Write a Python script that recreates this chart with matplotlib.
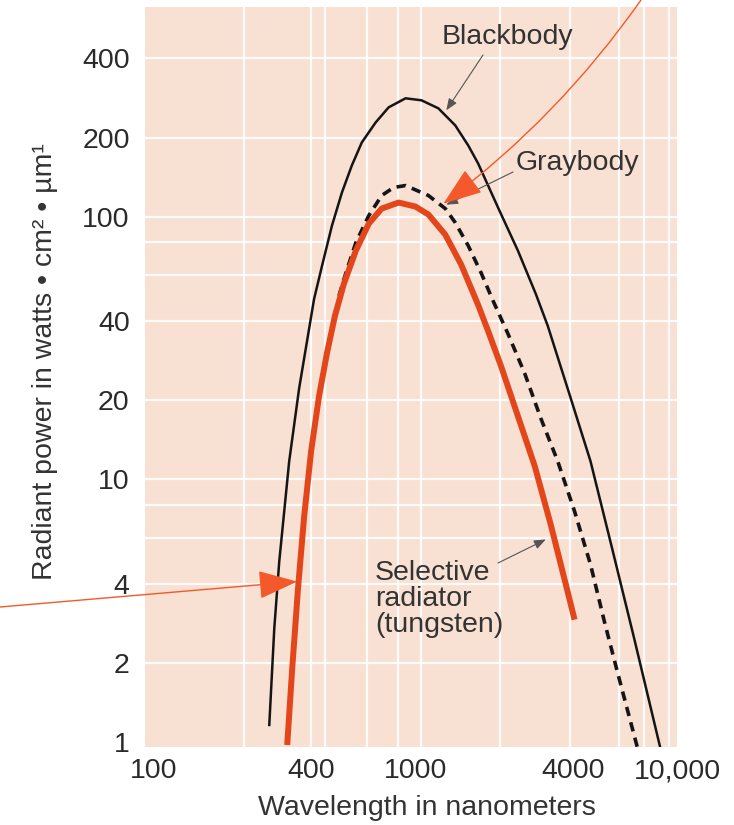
import matplotlib
matplotlib.use('Agg')
import matplotlib.pyplot as plt

plt.rcParams['font.family'] = ['Liberation Sans', 'DejaVu Sans']

# wavelength (nm) and radiant power
blackbody_nm = [276, 288.4, 301.3, 328.9, 359.1, 409.5, 439.2, 479.3, 523.2, 571, 623.4,
                704.7, 789.5, 916.2, 1054, 1223, 1419, 1591, 1736, 2069, 2464, 2884,
                3204, 3920, 4669, 5661, 6862, 8617]
blackbody_power = [1.161, 2.7, 4.864, 11.72, 22.25, 48.6, 65.0, 92.4, 123.5, 156.6, 191.6,
                   228.5, 260.6, 282.1, 277.2, 258.4, 222.5, 186.6, 159.3, 108.2, 74.2, 50.8,
                   38.4, 20.4, 11.72, 5.405, 2.473, 0.957]

graybody_nm = [509.6, 541.9, 591.4, 662.8, 742.6, 824.8, 916.2, 1121, 1300, 1419, 1591,
               1782, 1980, 2258, 2620, 3013, 3498, 4058, 4669, 5278, 5915, 7047]
graybody_power = [49.9, 61.1, 79.6, 100.9, 120.3, 129.1, 131.3, 120.3, 107.3, 94.9, 77.5,
                  61.1, 47.8, 35.8, 25.2, 17.09, 11.72, 7.55, 4.74, 2.871, 1.85, 0.957]

tungsten_nm = [323.2, 337.7, 355.9, 375.2, 398.9, 427.8, 458.8, 492.0, 532.4, 591.4, 662.8,
               742.6, 861.6, 1000, 1121, 1300, 1496, 1736, 1895, 2123, 2464, 2859, 3289,
               3817, 4058]
tungsten_power = [0.974, 1.9, 3.904, 7.224, 12.79, 20.74, 30.26, 41.9, 55.5, 74.2, 94.0,
                  107.3, 113.1, 109.2, 101.8, 85.4, 65.6, 46.1, 36.7, 27.0, 17.4, 11.21, 6.73,
                  3.737, 2.922]

x_ticks = [100, 400, 1000, 4000, 10000]
x_tick_labels = ['100', '400', '1000', '4000', '10,000']
y_ticks = [1, 2, 4, 10, 20, 40, 100, 200, 400]
y_tick_labels = ['1', '2', '4', '10', '20', '40', '100', '200', '400']

x_grid = [220, 400, 450, 650, 860, 1050, 2100, 3900, 6000, 7500, 9300]
y_grid = [2, 4, 6, 8, 10, 20, 40, 60, 80, 100, 200, 400]

W, H = 734, 825
fig = plt.figure(figsize=(W / 100, H / 100), dpi=100)
ax = fig.add_axes([145 / W, 1 - 747 / H, (677 - 145) / W, (747 - 7) / H])
ax.set_facecolor('#F8E0D2')
ax.set_xscale('log')
ax.set_yscale('log')
ax.set_xlim(92.4, 10000)
ax.set_ylim(0.957, 628)
for s in ax.spines.values():
    s.set_visible(False)

for v in x_grid:
    ax.axvline(v, color='white', lw=1.6, alpha=0.9, zorder=0.5)
for v in y_grid:
    ax.axhline(v, color='white', lw=1.6, alpha=0.9, zorder=0.5)

ax.plot(blackbody_nm, blackbody_power, color='#151515', lw=1.8,
        solid_joinstyle='round', zorder=3)
ax.plot(graybody_nm, graybody_power, color='#151515', lw=2.6,
        linestyle=(0, (2.6, 1.8)), zorder=2)
ax.plot(tungsten_nm, tungsten_power, color='#E4461B', lw=4.3,
        solid_capstyle='butt', solid_joinstyle='round', zorder=2.5)

ax.set_xticks(x_ticks)
ax.set_xticklabels(x_tick_labels)
ax.set_yticks(y_ticks)
ax.set_yticklabels(y_tick_labels)
ax.minorticks_off()
ax.tick_params(length=0, labelsize=20.5, labelcolor='#2a2a2a')
ax.tick_params(axis='x', pad=8)
ax.tick_params(axis='y', pad=11)


def px(x, y):
    return (x, H - y)


txt = '#333333'
fig.text(427 / W, 1 - 808 / H, 'Wavelength in nanometers', ha='center', va='center',
         fontsize=20.5, color=txt)
fig.text(45 / W, 1 - 362 / H, 'Radiant power in watts \u2022 cm\u00b2 \u2022 \u00b5m\u00b9',
         ha='center', va='center', rotation=90, fontsize=20.5, color=txt)

gray_arrow = dict(arrowstyle='-|>,head_length=0.5,head_width=0.2', color='#555555',
                  lw=0.8, mutation_scale=14, shrinkA=0, shrinkB=0)
ax.annotate('', xy=(1312, 254), xytext=px(483, 55), textcoords='figure pixels',
            arrowprops=gray_arrow, zorder=4)
ax.annotate('', xy=(1312, 111), xytext=px(513, 172), textcoords='figure pixels',
            arrowprops=gray_arrow, zorder=4)
ax.annotate('', xy=(3148, 5.9), xytext=px(498, 563), textcoords='figure pixels',
            arrowprops=gray_arrow, zorder=4)

ax.annotate('Blackbody', xy=px(507, 37), xycoords='figure pixels', ha='center',
            va='center', fontsize=20.5, color=txt)
ax.annotate('Graybody', xy=px(516, 163), xycoords='figure pixels', ha='left',
            va='center', fontsize=20.5, color=txt)
ax.annotate('Selective\nradiator\n(tungsten)', xy=px(375, 599), xycoords='figure pixels',
            ha='left', va='center', fontsize=20.5, color=txt, linespacing=1.0)

red_arrow = dict(arrowstyle='-|>,head_length=0.55,head_width=0.2', color='#F4592B',
                 lw=1.0, mutation_scale=45, shrinkA=0, shrinkB=0)
ax.annotate('', xy=(1278, 112), xytext=px(641, 0), textcoords='figure pixels',
            arrowprops=dict(red_arrow, connectionstyle='arc3,rad=-0.08'),
            annotation_clip=False, zorder=6)
ax.annotate('', xy=(353, 4.08), xytext=px(0, 607), textcoords='figure pixels',
            arrowprops=red_arrow, annotation_clip=False, zorder=6)

fig.savefig('out.png', dpi=100)
